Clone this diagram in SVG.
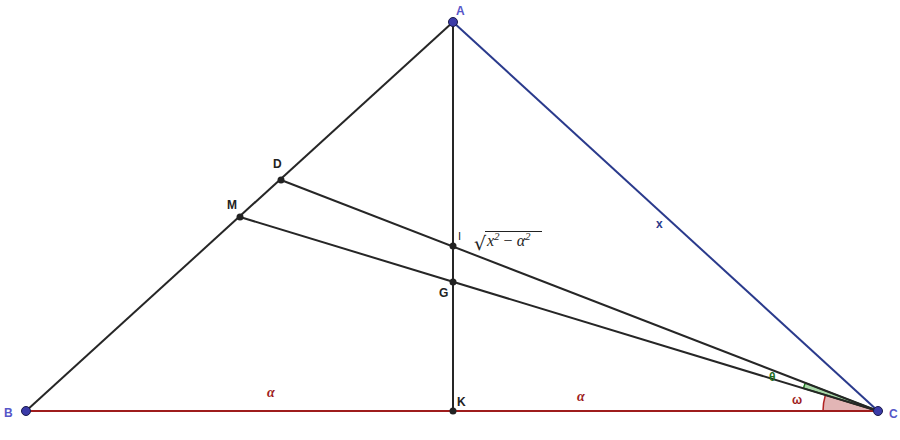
<svg xmlns="http://www.w3.org/2000/svg" width="900" height="440" viewBox="0 0 900 440">
<style>
.seg{stroke:#262626;stroke-width:2;fill:none}
.lbl{font-family:"Liberation Sans",Arial,sans-serif;font-size:12px;font-weight:bold;fill:#222}
.vlbl{font-family:"Liberation Sans",Arial,sans-serif;font-size:12px;font-weight:bold;fill:#5656c8}
.math{font-family:"Liberation Serif","Times New Roman",serif;font-style:italic}
.pt{fill:#222}
.bpt{fill:#3b3ba8;stroke:#1a1a4a;stroke-width:1}
</style>
<rect width="900" height="440" fill="#fff"/>
<g id="angles">
  <path d="M878,411 L823,411 A55,55 0 0 1 825.4,395 Z" fill="#e2b5b5" stroke="#b22222" stroke-width="1.5"/>
  <path d="M878,411 L803.4,388.3 A78,78 0 0 1 805.3,382.9 Z" fill="#a9d8a9" stroke="#1e7a1e" stroke-width="1.5"/>
</g>
<g id="connectors">
  <line class="seg" x1="26" y1="411" x2="453" y2="22"/>
  <line class="seg" x1="453" y1="22" x2="453" y2="411"/>
  <line x1="453" y1="22" x2="878" y2="411" stroke="#2a3a8c" stroke-width="2"/>
  <line x1="26" y1="411" x2="878" y2="411" stroke="#9e1c1c" stroke-width="2"/>
  <line class="seg" x1="281" y1="180" x2="878" y2="411"/>
  <line class="seg" x1="240" y1="217" x2="878" y2="411"/>
</g>
<g id="node-A"><circle class="bpt" cx="453" cy="22" r="4.5"/><text class="vlbl" x="456" y="15">A</text></g>
<g id="node-B"><circle class="bpt" cx="26" cy="411" r="4.5"/><text class="vlbl" x="4" y="417">B</text></g>
<g id="node-C"><circle class="bpt" cx="878" cy="411" r="4.5"/><text class="vlbl" x="889" y="418">C</text></g>
<g id="node-D"><circle class="pt" cx="281" cy="180" r="3.5"/><text class="lbl" x="273" y="168">D</text></g>
<g id="node-M"><circle class="pt" cx="240" cy="217" r="3.5"/><text class="lbl" x="227" y="209">M</text></g>
<g id="node-I"><circle class="pt" cx="453" cy="246" r="3.5"/><text x="458" y="240" font-family="Liberation Sans,Arial,sans-serif" font-size="11" fill="#222">I</text></g>
<g id="node-G"><circle class="pt" cx="453" cy="282" r="3.5"/><text class="lbl" x="439" y="297">G</text></g>
<g id="node-K"><circle class="pt" cx="453" cy="411" r="3.5"/><text class="lbl" x="457" y="406">K</text></g>
<g id="labels">
  <text x="474" y="250" font-family="DejaVu Sans,sans-serif" font-size="19" fill="#222">√</text>
  <line x1="485" y1="231.5" x2="542" y2="231.5" stroke="#222" stroke-width="1.2"/>
  <text class="math" x="487" y="246" font-size="16" fill="#222">x<tspan font-size="11" dy="-6">2</tspan><tspan dy="6" font-style="normal"> − </tspan>α<tspan font-size="11" dy="-6">2</tspan></text>
  <text x="656" y="228" font-family="Liberation Sans,Arial,sans-serif" font-size="12" font-weight="bold" fill="#2a3a8c">x</text>
  <text class="math" x="267" y="397" font-size="14" fill="#9e1c1c" font-weight="bold">α</text>
  <text class="math" x="577" y="401" font-size="14" fill="#9e1c1c" font-weight="bold">α</text>
  <text x="769" y="381" font-family="Liberation Sans,Arial,sans-serif" font-size="12" font-weight="bold" fill="#1e6e1e">θ</text>
  <text x="792" y="404" font-family="Liberation Sans,Arial,sans-serif" font-size="12" font-weight="bold" fill="#9e1c1c">ω</text>
</g>
</svg>
